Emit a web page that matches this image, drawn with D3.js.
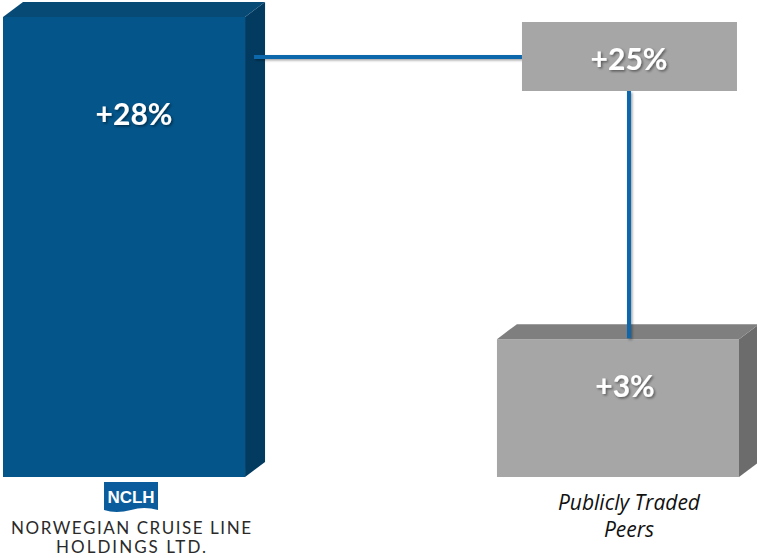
<!DOCTYPE html>
<html><head><meta charset="utf-8">
<script src="https://cdn.jsdelivr.net/npm/d3@7/dist/d3.min.js"></script>
<style>
html,body{margin:0;padding:0;background:#fff;}
svg{display:block;}
</style></head>
<body>
<svg id="chart" width="757" height="558"></svg>
<script>
// ---- data ----
const categories = ["NCLH", "Publicly Traded Peers"];
const values = [28, 3];
const valueLabels = ["+28%", "+25%", "+3%"];
const difference = [25];
const companyLines = ["NORWEGIAN CRUISE LINE", "HOLDINGS LTD."];
const peerLines = ["Publicly Traded", "Peers"];

// ---- layout ----
const svg = d3.select("#chart");
const baseY = 477;
const depthX = 20, depthY = 15;

const x = d3.scaleBand().domain(categories).range([3, 739]).paddingInner(0.51).paddingOuter(0);
const y = d3.scaleLinear().domain([-7.7, 28]).range([baseY, 17]);

const defs = svg.append("defs");
const f = defs.append("filter").attr("id", "tshadow").attr("x", "-20%").attr("y", "-20%").attr("width", "140%").attr("height", "140%");
f.append("feDropShadow").attr("dx", 1.5).attr("dy", 1.5).attr("stdDeviation", 1).attr("flood-color", "#000").attr("flood-opacity", 0.45);
const f2 = defs.append("filter").attr("id", "lshadow").attr("x", "-20%").attr("y", "-20%").attr("width", "140%").attr("height", "140%");
f2.append("feDropShadow").attr("dx", 1.5).attr("dy", 1.5).attr("stdDeviation", 1.2).attr("flood-color", "#000").attr("flood-opacity", 0.35);

const colors = [
  {front: "#03558a", top: "#084a76", side: "#033b60"},
  {front: "#a6a6a6", top: "#7f7f7f", side: "#6c6c6c"}
];
const labelDy = [96, 46];

const bars = svg.append("g");
categories.forEach((c, i) => {
  const x0 = x(c), x1 = x0 + x.bandwidth();
  const yt = y(values[i]);
  const c3 = colors[i];
  bars.append("path")
    .attr("d", `M${x1},${yt} L${x1 + depthX},${yt - depthY} L${x1 + depthX},${baseY - depthY} L${x1},${baseY} Z`)
    .attr("fill", c3.side);
  bars.append("path")
    .attr("d", `M${x0},${yt} L${x0 + depthX},${yt - depthY} L${x1 + depthX},${yt - depthY} L${x1},${yt} Z`)
    .attr("fill", c3.top);
  bars.append("rect")
    .attr("x", x0).attr("y", yt).attr("width", x.bandwidth()).attr("height", baseY - yt)
    .attr("fill", c3.front);
});

// ---- connectors and difference box ----
const nclhRight = x(categories[0]) + x.bandwidth() + depthX / 2;
const peersCx = x(categories[1]) + x.bandwidth() / 2 + 11;
const boxCy = y(values[0]) + 40;
const boxW = 215, boxH = 69;
const boxX = peersCx - 107, boxY = boxCy - 35;

const conn = svg.append("g").attr("filter", "url(#lshadow)");
conn.append("line")
  .attr("x1", nclhRight - 1).attr("x2", boxX).attr("y1", boxCy).attr("y2", boxCy)
  .attr("stroke", "#0a68ab").attr("stroke-width", 4);
conn.append("line")
  .attr("x1", peersCx).attr("x2", peersCx).attr("y1", boxY + boxH).attr("y2", y(values[1]) - 1)
  .attr("stroke", "#0a68ab").attr("stroke-width", 4);

svg.append("rect").attr("x", boxX).attr("y", boxY).attr("width", boxW).attr("height", boxH).attr("fill", "#a6a6a6");

// ---- value labels ----
const valFont = "Lato, 'Open Sans', sans-serif";
function valueText(tx, ty, t) {
  svg.append("text").attr("x", tx).attr("y", ty)
    .attr("text-anchor", "middle").attr("dominant-baseline", "central")
    .attr("font-family", valFont).attr("font-weight", 700).attr("font-size", 30)
    .attr("fill", "#fff").attr("filter", "url(#tshadow)")
    .text(t);
}
valueText(x(categories[0]) + x.bandwidth() / 2 + 10, y(values[0]) + labelDy[0], valueLabels[0]);
valueText(peersCx, boxCy + 1, "+" + difference[0] + "%");
valueText(peersCx - 4, y(values[1]) + labelDy[1], valueLabels[2]);

// ---- category labels ----
const nclhCx = x(categories[0]) + x.bandwidth() / 2 + 7;
const bx = nclhCx - 27, by = 482;
svg.append("path")
  .attr("d", `M${bx},${by} L${bx + 54},${by} L${bx + 54},${by + 28} Q${bx + 40},${by + 24} ${bx + 27},${by + 28} Q${bx + 12},${by + 32} ${bx},${by + 28} Z`)
  .attr("fill", "#0b5c9c");
svg.append("text").attr("x", nclhCx).attr("y", by + 21)
  .attr("text-anchor", "middle").attr("font-family", "'Liberation Sans', Arial, sans-serif")
  .attr("font-weight", 700).attr("font-size", 17).attr("fill", "#fff").text(categories[0]);
const compLen = [240, 150];
companyLines.forEach((t, i) => {
  svg.append("text").attr("x", nclhCx - compLen[i] / 2).attr("y", 534 + i * 19)
    .attr("font-family", "Lato, 'DejaVu Sans', sans-serif")
    .attr("font-size", 17).attr("textLength", compLen[i]).attr("lengthAdjust", "spacing")
    .attr("fill", "#2a2a2a").text(t);
});

peerLines.forEach((t, i) => {
  svg.append("text").attr("x", peersCx).attr("y", 510 + i * 27)
    .attr("text-anchor", "middle").attr("font-family", "'Open Sans', sans-serif")
    .attr("font-style", "italic").attr("font-size", 21).attr("fill", "#111").text(t);
});
</script>
</body></html>
